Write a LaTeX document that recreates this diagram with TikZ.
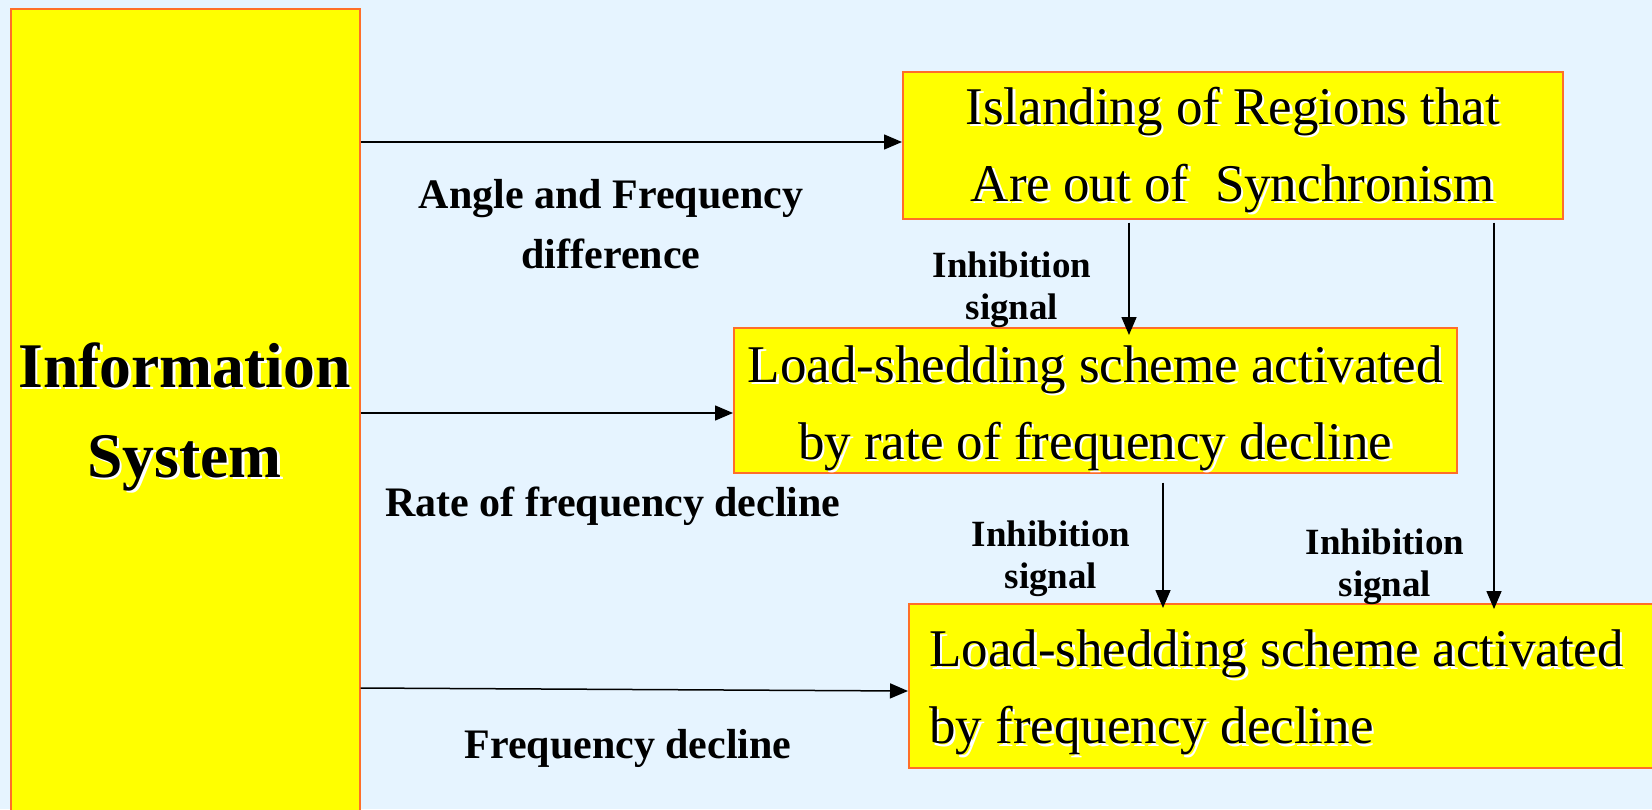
\documentclass[tikz,border=0pt]{standalone}
\usepackage{fontspec}
\setmainfont{Liberation Serif}
\usetikzlibrary{arrows.meta}
\definecolor{bgblue}{RGB}{230,244,255}
\definecolor{boxyellow}{RGB}{255,255,0}
\definecolor{boxedge}{RGB}{255,110,40}
\newcommand\shtxt[1]{\leavevmode\rlap{\hspace{2.5pt}\raisebox{-2.5pt}{\textcolor{white}{#1}}}#1}
\begin{document}
\begin{tikzpicture}[x=1pt,y=-1pt,
  ybox/.style={draw=boxedge,line width=1.5pt,fill=boxyellow,inner sep=0pt,anchor=north west},
  boxtext/.style={font=\fontsize{53}{77}\selectfont,inner sep=0pt},
  lbl/.style={font=\fontsize{42}{60}\selectfont\bfseries,align=center,inner sep=0pt},
  inh/.style={font=\fontsize{37}{42}\selectfont\bfseries,align=center,inner sep=0pt},
  arr/.style={line width=1.5pt,-{Triangle[length=18pt,width=15pt]}}]
\fill[bgblue] (0,0) rectangle (1652,809);
\useasboundingbox (0,0) rectangle (1652,809);
% boxes
\node[ybox,minimum width=349pt,minimum height=820pt] (info) at (10,8) {};
\node[font=\fontsize{63.6}{90}\selectfont\bfseries,align=center] (infot) at (184.5,418) {\shtxt{Information}\\\shtxt{System}};
\node[ybox,minimum width=660pt,minimum height=147pt] (isl) at (902,71) {};
\node[boxtext,align=center] (islt) at ([yshift=-6pt]isl.center) {\shtxt{Islanding of Regions that}\\\shtxt{Are out of\ \ Synchronism}};
\node[ybox,minimum width=723pt,minimum height=145pt] (mid) at (733,327) {};
\node[boxtext,align=center] (midt) at ([yshift=-9pt]mid.center) {\shtxt{Load-shedding scheme activated}\\\shtxt{by rate of frequency decline}};
\node[ybox,minimum width=760pt,minimum height=164pt] (bot) at (908,603) {};
\node[boxtext,align=left,anchor=west] (bott) at ([xshift=21pt,yshift=-8pt]bot.west) {\shtxt{Load-shedding scheme activated}\\\shtxt{by frequency decline}};
% labels
\node[lbl] (l1) at (611,224) {Angle and Frequency\\difference};
\node[inh] (i1) at (1012,290) {Inhibition\\signal};
\node[lbl] (l2) at (613,506) {Rate of frequency decline};
\node[inh] (i2) at (1051,559) {Inhibition\\signal};
\node[inh] (i3) at (1385,567) {Inhibition\\signal};
\node[lbl] (l3) at (628,748) {Frequency decline};
% connectors
\draw[arr] (info.east |- 0,142) -- (isl.west |- 0,142);
\draw[arr] (info.east |- 0,413) -- (mid.west |- 0,413);
\draw[arr] (info.east |- 0,688) -- (bot.west |- 0,691);
\draw[arr] (isl.south -| 1129,0) ++(0,3) -- ([yshift=-8pt]mid.north -| 1129,0);
\draw[arr] (mid.south -| 1163,0) ++(0,9) -- ([yshift=-5pt]bot.north -| 1163,0);
\draw[arr] (isl.south -| 1494,0) ++(0,3) -- ([yshift=-6pt]bot.north -| 1494,0);
\end{tikzpicture}
\end{document}
